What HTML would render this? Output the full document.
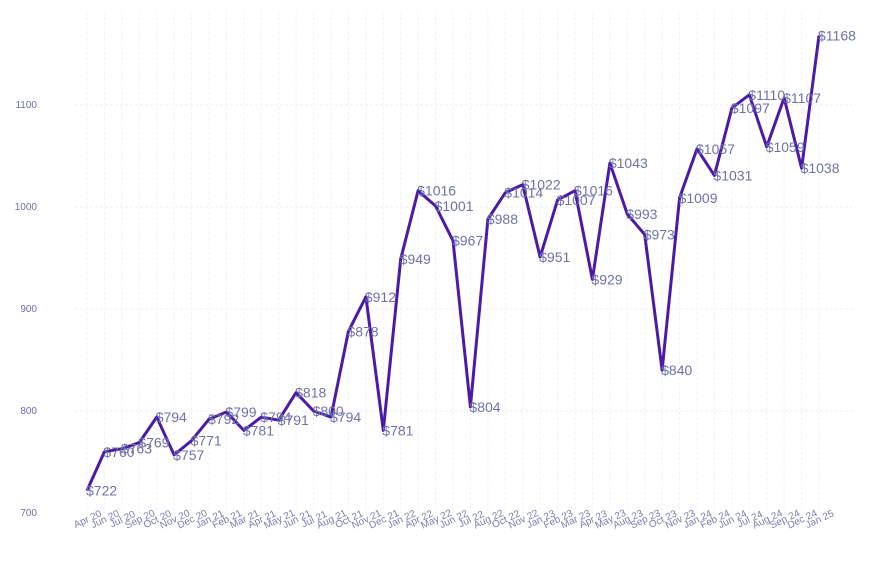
<!DOCTYPE html>
<html><head><meta charset="utf-8"><style>
body{margin:0;background:#fff;}
svg{display:block;font-family:"Liberation Sans",Arial,sans-serif;}
</style></head><body>
<svg id="chart" width="872" height="565" viewBox="0 0 872 565">
<g id="grid"></g>
<g id="yaxis"></g>
<g id="xaxis"></g>
<path id="line" fill="none" stroke="#4a1aa8" stroke-width="3" stroke-linejoin="round"/>
<g id="labels"></g>
</svg>
<script>
const categories=["Apr 20","Jun 20","Jul 20","Sep 20","Oct 20","Nov 20","Dec 20","Jan 21","Feb 21","Mar 21","Apr 21","May 21","Jun 21","Jul 21","Aug 21","Oct 21","Nov 21","Dec 21","Jan 22","Apr 22","May 22","Jun 22","Jul 22","Aug 22","Oct 22","Nov 22","Jan 23","Feb 23","Mar 23","Apr 23","May 23","Aug 23","Sep 23","Oct 23","Nov 23","Jan 24","Feb 24","Jun 24","Jul 24","Aug 24","Sep 24","Dec 24","Jan 25"];
const values=[722,760,763,769,794,757,771,792,799,781,794,791,818,800,794,878,912,781,949,1016,1001,967,804,988,1014,1022,951,1007,1016,929,1043,993,973,840,1009,1057,1031,1097,1110,1059,1107,1038,1168];
const yTicks=[700,800,900,1000,1100];
const NS="http://www.w3.org/2000/svg";
const x0=87,x1=819,yBase=513,yScale=1.02;
function xPos(i){return x0+(x1-x0)*i/(categories.length-1);}
function yPos(v){return yBase-(v-700)*yScale;}
function mk(tag,attrs,parent){const e=document.createElementNS(NS,tag);for(const k in attrs)e.setAttribute(k,attrs[k]);parent.appendChild(e);return e;}
const grid=document.getElementById('grid'),ya=document.getElementById('yaxis'),xa=document.getElementById('xaxis'),lab=document.getElementById('labels');
yTicks.forEach(t=>{
  if(t>700){const l=mk('line',{x1:75,x2:857,y1:yPos(t),y2:yPos(t),stroke:'#eeeefa','stroke-width':1,'stroke-dasharray':'3,2'},grid);
  
  }
  const tx=mk('text',{x:37,y:yPos(t)+3,'font-size':10,fill:'#6b6fa8','text-anchor':'end'},ya);
  tx.textContent=t;
  
  
});
categories.forEach((c,i)=>{
  const x=xPos(i);
  const l=mk('line',{x1:x,x2:x,y1:12,y2:513,stroke:'#f2f2fb','stroke-width':1,'stroke-dasharray':'3,2'},grid);
  
  
  const t=mk('text',{x:x+2,y:522,'font-size':10,fill:'#7a7db0','text-anchor':'middle',transform:`rotate(-25 ${x+2} 522)`},xa);
  t.textContent=c;
  
  
});
let d='';
values.forEach((v,i)=>{d+=(i?'L':'M')+xPos(i).toFixed(1)+','+yPos(v).toFixed(1);
  const t=mk('text',{x:xPos(i)-1,y:yPos(v)+5,'font-size':14,fill:'#6e72aa'},lab);
  t.textContent='$'+v;
  
  
});
document.getElementById('line').setAttribute('d',d);
</script>
</body></html>
